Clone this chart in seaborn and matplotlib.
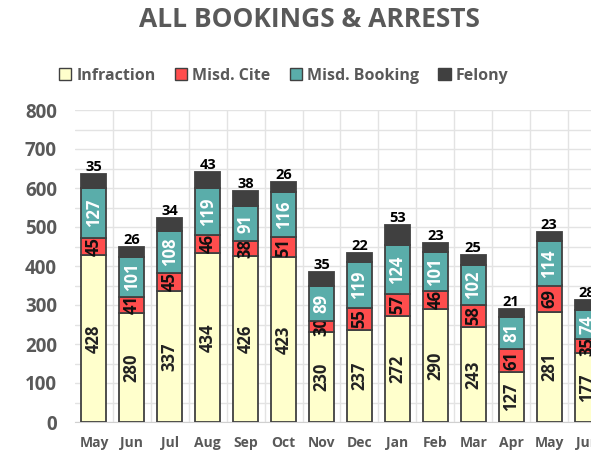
import matplotlib
matplotlib.use("Agg")
import matplotlib.pyplot as plt
import seaborn as sns
import numpy as np
from matplotlib.patches import Patch

# 데이터
months = ["May", "Jun", "Jul", "Aug", "Sep", "Oct", "Nov",
          "Dec", "Jan", "Feb", "Mar", "Apr", "May", "Jun"]
infraction = [428, 280, 337, 434, 426, 423, 230, 237, 272, 290, 243, 127, 281, 177]
misd_cite = [45, 41, 45, 46, 38, 51, 30, 55, 57, 46, 58, 61, 69, 35]
misd_booking = [127, 101, 108, 119, 91, 116, 89, 119, 124, 101, 102, 81, 114, 74]
felony = [35, 26, 34, 43, 38, 26, 35, 22, 53, 23, 25, 21, 23, 28]

series = [
    ("Infraction", infraction, "#FFFFCC", "#222222"),
    ("Misd. Cite", misd_cite, "#FF4D4D", "#111111"),
    ("Misd. Booking", misd_booking, "#5AADAA", "white"),
    ("Felony", felony, "#404040", None),
]

sns.set_style("white")
plt.rcParams["font.family"] = ["Open Sans", "DejaVu Sans"]

fig = plt.figure(figsize=(5.91, 4.54), dpi=100)
ax = fig.add_axes([75 / 591, 32 / 454, 531 / 591, 312 / 454])

pos = list(range(len(months)))
bottom = np.zeros(len(months))
for name, vals, color, txtcolor in series:
    sns.barplot(x=pos, y=vals, bottom=bottom, color=color, width=0.66,
                edgecolor="#404040", linewidth=1.3, ax=ax, zorder=3,
                saturation=1)
    cont = ax.containers[-1]
    if txtcolor is not None:
        # 막대 안쪽 세로 라벨
        ax.bar_label(cont, labels=[str(v) for v in vals], label_type="center",
                     rotation=90, color=txtcolor, fontsize=12, fontweight="bold")
    else:
        # Felony 값은 막대 위에
        ax.bar_label(cont, labels=[str(v) for v in vals], label_type="edge",
                     padding=0, color="black", fontsize=10.5, fontweight="bold")
    bottom = bottom + np.array(vals)

ax.set_xlim(-0.5, len(months) - 0.5)
ax.set_ylim(0, 800)
ax.set_yticks(range(0, 801, 100))
ax.set_yticks(range(0, 801, 50), minor=True)
ax.set_xticks(pos)
ax.set_xticklabels(months)
ax.set_xticks([p + 0.5 for p in pos], minor=True)
ax.grid(True, which="both", color="#E3E3E3", linewidth=1, zorder=0)
ax.grid(False, which="major", axis="x")
ax.set_axisbelow(True)
ax.tick_params(axis="both", which="both", length=0)
ax.tick_params(axis="x", labelsize=10, colors="#595959", pad=10)
ax.tick_params(axis="y", labelsize=13.5, colors="#595959", pad=13)
for lab in ax.get_xticklabels() + ax.get_yticklabels():
    lab.set_fontweight("bold")
ax.set_xlabel("")
ax.set_ylabel("")
for s in ax.spines.values():
    s.set_visible(False)
ax.spines["bottom"].set_visible(True)
ax.spines["bottom"].set_color("#D0D0D0")

fig.text(0.523, 0.957, "ALL BOOKINGS & ARRESTS", ha="center", va="center",
         fontsize=19, fontweight="bold", color="#595959")

handles = [Patch(facecolor=c, edgecolor="#404040", label=n) for n, _, c, _ in series]
leg = fig.legend(handles=handles, loc="center", bbox_to_anchor=(0.48, 0.833), ncol=4,
                 frameon=False, handlelength=0.8, handleheight=0.8, handletextpad=0.3,
                 columnspacing=1.2, prop={"weight": "bold", "size": 11.5})
for t in leg.get_texts():
    t.set_color("#595959")

fig.savefig("out.png", dpi=100)
